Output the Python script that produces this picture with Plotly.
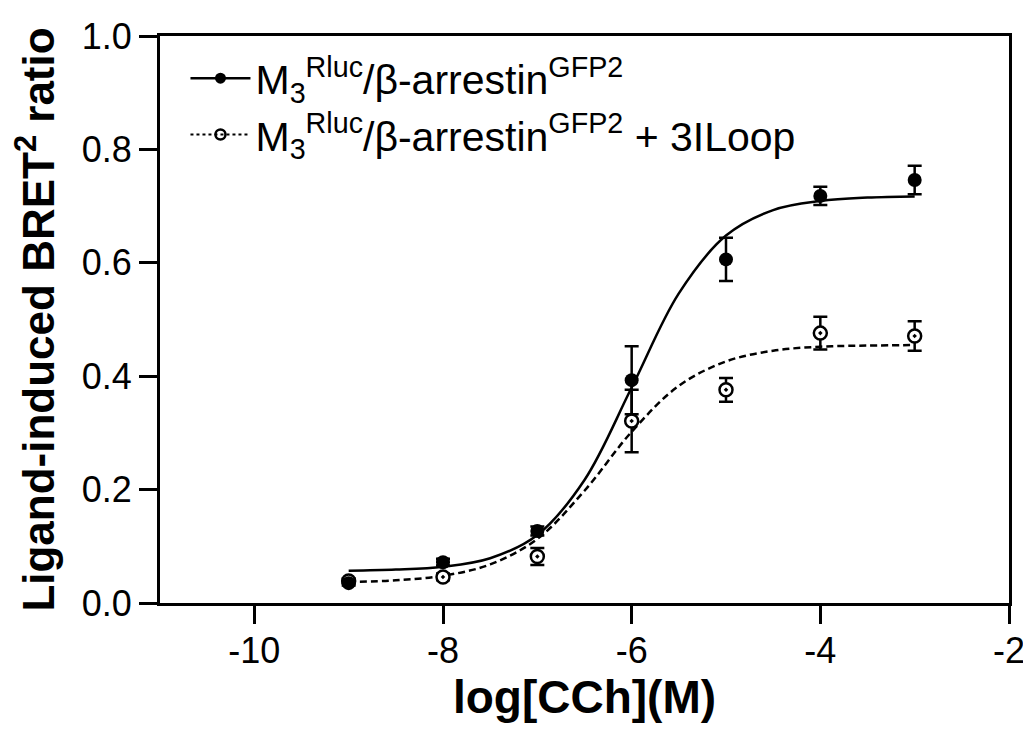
import plotly.graph_objects as go

# ---- data ----
log_cch = [-9, -8, -7, -6, -5, -4, -3]

wt_mean = [0.035, 0.072, 0.127, 0.393, 0.606, 0.718, 0.746]
wt_err = [0.004, 0.006, 0.008, 0.060, 0.038, 0.016, 0.025]

loop_mean = [0.039, 0.046, 0.082, 0.321, 0.376, 0.476, 0.471]
loop_err = [0.004, 0.006, 0.015, 0.055, 0.021, 0.029, 0.026]

curve_x = [-9, -8.5, -8, -7.5, -7, -6.5, -6, -5.5, -5, -4.5, -4, -3.5, -3]
wt_fit = [0.057, 0.059, 0.064, 0.079, 0.120, 0.217, 0.380, 0.546, 0.648, 0.693, 0.709, 0.715, 0.717]
loop_fit = [0.037, 0.040, 0.048, 0.068, 0.113, 0.198, 0.302, 0.383, 0.426, 0.445, 0.452, 0.454, 0.455]

x_ticks = [-10, -8, -6, -4, -2]
y_ticks = [0.0, 0.2, 0.4, 0.6, 0.8, 1.0]

name_wt = "M<sub>3</sub><sup>Rluc</sup>/β-arrestin<sup>GFP2</sup>"
name_loop = "M<sub>3</sub><sup>Rluc</sup>/β-arrestin<sup>GFP2</sup> + 3ILoop"

FONT = "Liberation Sans, Arial, sans-serif"

fig = go.Figure()

# fitted curves
fig.add_trace(go.Scatter(x=curve_x, y=loop_fit, mode="lines", line=dict(color="black", width=2.5, dash="7px,4px", shape="spline"),
                         showlegend=False, hoverinfo="skip"))
fig.add_trace(go.Scatter(x=curve_x, y=wt_fit, mode="lines", line=dict(color="black", width=2.5, shape="spline"),
                         showlegend=False, hoverinfo="skip"))

# data points
fig.add_trace(go.Scatter(x=log_cch, y=loop_mean, mode="markers",
                         marker=dict(symbol="circle-dot", size=13, color="white", line=dict(color="black", width=2.5)),
                         error_y=dict(type="data", array=loop_err, color="black", thickness=2.5, width=7),
                         showlegend=False))
fig.add_trace(go.Scatter(x=log_cch, y=wt_mean, mode="markers",
                         marker=dict(symbol="circle", size=14, color="black"),
                         error_y=dict(type="data", array=wt_err, color="black", thickness=2.5, width=7),
                         showlegend=False))

# legend entries
fig.add_trace(go.Scatter(x=[None], y=[None], mode="lines+markers", name=name_wt,
                         line=dict(color="black", width=2.5),
                         marker=dict(symbol="circle", size=11, color="black")))
fig.add_trace(go.Scatter(x=[None], y=[None], mode="lines+markers", name=name_loop,
                         line=dict(color="black", width=2, dash="dot"),
                         marker=dict(symbol="circle-open", size=10, color="black", line=dict(width=2.5))))

# the page body adds an 8px offset, so margins are shifted to keep the plot area where the reference has it
fig.update_layout(
    width=1031, height=736,
    margin=dict(l=152, r=30, t=28, b=141, autoexpand=False),
    paper_bgcolor="white", plot_bgcolor="white",
    font=dict(family=FONT, color="black"),
    legend=dict(x=0.03, y=0.984, xanchor="left", yanchor="top", bgcolor="rgba(0,0,0,0)",
                font=dict(size=41, family=FONT), itemwidth=60, tracegroupgap=0),
)
fig.update_xaxes(range=[-11, -2], tickvals=x_ticks, ticktext=[str(v) for v in x_ticks],
                 showgrid=False, zeroline=False, showline=True, linecolor="black", linewidth=3, mirror=True,
                 ticks="outside", ticklen=18, tickwidth=2.5, tickcolor="black", automargin=False,
                 tickfont=dict(size=36, family=FONT), ticklabelstandoff=-4,
                 title=dict(text="<b>log[CCh](M)</b>", font=dict(size=46, family=FONT), standoff=10))
fig.update_yaxes(range=[0, 1], tickvals=y_ticks, ticktext=[f"{v:.1f}" for v in y_ticks],
                 showgrid=False, zeroline=False, showline=True, linecolor="black", linewidth=3, mirror=True,
                 ticks="outside", ticklen=18, tickwidth=2.5, tickcolor="black", automargin=False,
                 tickfont=dict(size=36, family=FONT),
                 title=dict(text="<b>Ligand-induced BRET<sup>2</sup> ratio</b>", font=dict(size=44, family=FONT), standoff=20))

fig.write_html("out.html")
